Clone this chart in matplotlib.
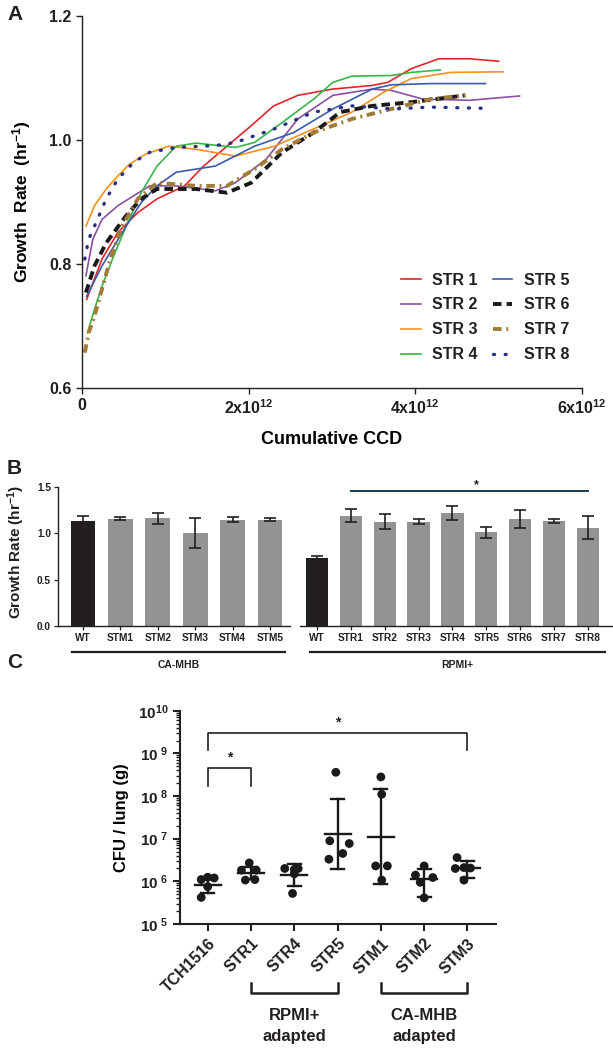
import matplotlib
matplotlib.use('Agg')
import matplotlib.pyplot as plt
import matplotlib.transforms as mtransforms
import numpy as np
from matplotlib.ticker import LogLocator, NullFormatter, FixedLocator

plt.rcParams['font.family'] = ['Liberation Sans', 'DejaVu Sans']
plt.rcParams['font.weight'] = 'bold'
plt.rcParams['mathtext.fontset'] = 'custom'
plt.rcParams['mathtext.rm'] = 'Liberation Sans:bold'
plt.rcParams['mathtext.bf'] = 'Liberation Sans:bold'
plt.rcParams['mathtext.it'] = 'Liberation Sans:bold'
plt.rcParams['axes.linewidth'] = 1.0
TXT = '#231f20'
plt.rcParams['text.color'] = TXT
plt.rcParams['xtick.color'] = TXT
plt.rcParams['ytick.color'] = TXT
plt.rcParams['axes.edgecolor'] = TXT

# ---------------- Panel A data (x in units of 1e12 cumulative CCD) -------------
CCD_UNIT = 1e12
str1_x = [0.056, 0.24, 0.43, 0.67, 0.90, 1.23, 1.46, 1.74, 2.03, 2.30, 2.59, 3.00, 3.48, 3.67, 3.95, 4.28, 4.65, 5.00]
str1_y = [0.743, 0.808, 0.851, 0.883, 0.905, 0.926, 0.958, 0.990, 1.023, 1.055, 1.072, 1.082, 1.088, 1.093, 1.115, 1.131, 1.131, 1.127]
str2_x = [0.047, 0.13, 0.24, 0.43, 0.62, 0.81, 1.13, 1.60, 1.84, 2.21, 2.59, 3.01, 3.48, 3.71, 4.09, 4.65, 5.25]
str2_y = [0.781, 0.840, 0.872, 0.894, 0.910, 0.926, 0.926, 0.918, 0.931, 0.969, 1.034, 1.072, 1.082, 1.080, 1.066, 1.064, 1.071]
str3_x = [0.047, 0.15, 0.29, 0.43, 0.57, 0.76, 1.04, 1.37, 1.84, 2.31, 2.78, 3.24, 3.62, 3.95, 4.42, 5.05]
str3_y = [0.861, 0.894, 0.921, 0.942, 0.961, 0.977, 0.990, 0.985, 0.974, 0.990, 1.018, 1.045, 1.077, 1.099, 1.109, 1.110]
str4_x = [0.066, 0.15, 0.24, 0.38, 0.53, 0.71, 0.90, 1.13, 1.37, 1.84, 2.07, 2.40, 2.78, 3.01, 3.24, 3.71, 3.95, 4.30]
str4_y = [0.689, 0.727, 0.764, 0.813, 0.861, 0.915, 0.958, 0.990, 0.995, 0.988, 0.996, 1.028, 1.066, 1.093, 1.103, 1.104, 1.109, 1.113]
str5_x = [0.056, 0.24, 0.53, 0.71, 0.90, 1.13, 1.60, 2.07, 2.54, 3.01, 3.48, 3.71, 4.18, 4.84]
str5_y = [0.748, 0.797, 0.861, 0.899, 0.926, 0.948, 0.958, 0.990, 1.012, 1.050, 1.082, 1.089, 1.091, 1.091]
str6_x = [0.047, 0.15, 0.29, 0.53, 0.71, 0.90, 1.37, 1.74, 2.03, 2.40, 2.78, 3.10, 3.48, 3.95, 4.60]
str6_y = [0.754, 0.797, 0.834, 0.878, 0.905, 0.921, 0.921, 0.915, 0.931, 0.980, 1.012, 1.045, 1.055, 1.061, 1.072]
str7_x = [0.033, 0.08, 0.15, 0.34, 0.48, 0.67, 0.90, 1.37, 1.74, 2.07, 2.40, 2.78, 3.24, 3.71, 4.18, 4.60]
str7_y = [0.657, 0.689, 0.716, 0.808, 0.861, 0.905, 0.931, 0.926, 0.926, 0.953, 0.985, 1.012, 1.034, 1.050, 1.066, 1.072]
str8_x = [0.033, 0.08, 0.17, 0.29, 0.43, 0.62, 0.81, 1.13, 1.60, 1.84, 2.31, 2.78, 3.24, 3.71, 4.18, 4.88]
str8_y = [0.808, 0.840, 0.867, 0.905, 0.937, 0.964, 0.980, 0.988, 0.991, 0.996, 1.018, 1.045, 1.055, 1.050, 1.053, 1.051]
series_labels = ['STR 1', 'STR 2', 'STR 3', 'STR 4', 'STR 5', 'STR 6', 'STR 7', 'STR 8']
a_xticks = [0, 2, 4, 6]
a_yticks = [0.6, 0.8, 1.0, 1.2]

# ---------------- Panel B data -------------
b_left_cats = ['WT', 'STM1', 'STM2', 'STM3', 'STM4', 'STM5']
b_left_vals = [1.134, 1.159, 1.162, 1.007, 1.148, 1.148]
b_left_err = [0.057, 0.02, 0.06, 0.162, 0.03, 0.02]
b_right_cats = ['WT', 'STR1', 'STR2', 'STR3', 'STR4', 'STR5', 'STR6', 'STR7', 'STR8']
b_right_vals = [0.729, 1.188, 1.126, 1.126, 1.220, 1.011, 1.152, 1.134, 1.061]
b_right_err = [0.03, 0.07, 0.078, 0.03, 0.08, 0.058, 0.096, 0.018, 0.123]
b_groups = ['CA-MHB', 'RPMI+']

# ---------------- Panel C data -------------
c_cats = ['TCH1516', 'STR1', 'STR4', 'STR5', 'STM1', 'STM2', 'STM3']
c_points = [
    [4.2e5, 7.5e5, 1.1e6, 1.2e6, 1.25e6],
    [1.07e6, 1.1e6, 1.83e6, 1.83e6, 2.7e6],
    [5.2e5, 1.5e6, 1.9e6, 2.0e6, 2.0e6],
    [3.3e6, 4.5e6, 7.7e6, 8.9e6, 3.6e8],
    [1.07e6, 2.3e6, 2.3e6, 1.1e8, 2.8e8],
    [4.1e5, 9.5e5, 1.23e6, 1.4e6, 2.3e6],
    [1.07e6, 2.0e6, 2.1e6, 2.05e6, 3.6e6],
]
c_mean = [8.2e5, 1.6e6, 1.4e6, 1.27e7, 1.1e7, 1.15e6, 2.0e6]
c_lower = [5.2e5, 1.15e6, 7.9e5, 1.9e6, 8.8e5, 4.35e5, 1.23e6]
c_upper = [1.28e6, 2.2e6, 2.53e6, 8.4e7, 1.46e8, 1.9e6, 3.0e6]
c_groups = ['RPMI+\nadapted', 'CA-MHB\nadapted']
# horizontal scatter spread of the dots (layout, category-width units)
c_spread = [
    [-0.15, 0.0, -0.15, 0.15, 0.0],
    [-0.13, 0.09, -0.22, 0.12, -0.04],
    [-0.04, 0.0, 0.0, -0.22, 0.09],
    [-0.2, 0.12, 0.27, -0.18, -0.04],
    [0.02, -0.12, 0.15, 0.02, 0.0],
    [0.0, -0.09, 0.2, -0.2, 0.0],
    [-0.08, -0.28, -0.08, 0.07, -0.24],
]

# ================= Figure =================
W, H = 613, 1050
fig = plt.figure(figsize=(W / 100, H / 100), dpi=100)

def ax_rect(x0, y0, x1, y1):
    return [x0 / W, 1 - y1 / H, (x1 - x0) / W, (y1 - y0) / H]

# ---------- Panel A ----------
axA = fig.add_axes(ax_rect(82, 16, 582, 388))
styles = [
    dict(color='#e3242b', lw=1.2, ls='-'),
    dict(color='#8a4fa0', lw=1.2, ls='-'),
    dict(color='#f7901e', lw=1.2, ls='-'),
    dict(color='#39b54a', lw=1.2, ls='-'),
    dict(color='#3a5aa8', lw=1.2, ls='-'),
    dict(color='#1a1a1a', lw=2.8, ls=(0, (2.2, 1.3))),
    dict(color='#a27b36', lw=2.8, ls=(0, (2.2, 1.2, 0.5, 1.2))),
    dict(color='#2b2f80', lw=2.4, ls=(0, (0.3, 3.2)), dash_capstyle='round'),
]
xs = [str1_x, str2_x, str3_x, str4_x, str5_x, str6_x, str7_x, str8_x]
ys = [str1_y, str2_y, str3_y, str4_y, str5_y, str6_y, str7_y, str8_y]
for x, y, lab, st in zip(xs, ys, series_labels, styles):
    axA.plot(np.array(x) * CCD_UNIT, y, label=lab, solid_joinstyle='round', **st)
axA.set_xlim(0, 6 * CCD_UNIT)
axA.set_ylim(0.6, 1.2)
axA.set_xticks([t * CCD_UNIT for t in a_xticks])
axA.set_xticklabels(['0'] + [r'$\mathbf{%dx10^{12}}$' % t for t in a_xticks[1:]])
axA.set_yticks(a_yticks)
axA.set_yticklabels(['%.1f' % v for v in a_yticks])
axA.tick_params(labelsize=11.5, width=1.0, length=4)
for s in ['top', 'right']:
    axA.spines[s].set_visible(False)
axA.set_xlabel('Cumulative CCD', fontsize=13, fontweight='bold', labelpad=10)
axA.set_ylabel('Growth  Rate  (hr$^{-1}$)', fontsize=12.5, fontweight='bold', labelpad=12)
axA.legend(loc='upper left', bbox_to_anchor=(0.61, 0.349), ncol=2, frameon=False,
           handlelength=1.2, handletextpad=0.7, columnspacing=1.0,
           labelspacing=0.62, prop={'weight': 'bold', 'size': 11.5})
fig.text(15 / W, 1 - 14 / H, 'A', fontsize=15, fontweight='bold', ha='center', va='center')

# ---------- Panel B ----------
axBL = fig.add_axes(ax_rect(58, 487, 290, 626))
axBR = fig.add_axes(ax_rect(300, 487, 613, 626))
for ax, cats, vals, errs, grp, gx in [
        (axBL, b_left_cats, b_left_vals, b_left_err, b_groups[0], (-0.3, 5.4)),
        (axBR, b_right_cats, b_right_vals, b_right_err, b_groups[1], (-0.2, 8.5))]:
    pos = np.arange(len(cats))
    cols = ['#231f20'] + ['#939393'] * (len(cats) - 1)
    ax.bar(pos, vals, width=0.66, color=cols, edgecolor='none', zorder=2)
    ax.errorbar(pos, vals, yerr=errs, fmt='none', ecolor='#231f20', elinewidth=1.2,
                capsize=4.2, capthick=1.2, zorder=3)
    ax.set_ylim(0, 1.5)
    ax.set_xticks(pos)
    ax.set_xticklabels(cats, fontsize=7.3, fontweight='bold')
    ax.tick_params(axis='x', length=3, width=0.9, pad=2)
    for s in ['top', 'right']:
        ax.spines[s].set_visible(False)
    tr = mtransforms.blended_transform_factory(ax.transData, ax.transAxes)
    ax.plot(list(gx), [-0.187, -0.187], transform=tr, color='#231f20', lw=1.6, clip_on=False)
    ax.text(np.mean(gx), -0.28, grp, transform=tr, ha='center', va='center',
            fontsize=7.5, fontweight='bold')
axBL.set_xlim(-0.668, 5.535)
axBR.set_xlim(-0.5, 8.74)
axBL.set_yticks([0.0, 0.5, 1.0, 1.5])
axBL.set_yticklabels(['0.0', '0.5', '1.0', '1.5'], fontsize=7.3, fontweight='bold')
axBL.tick_params(axis='y', length=3, width=0.9, pad=2)
axBR.spines['left'].set_visible(False)
axBR.set_yticks([])
# significance line over STR1..STR8
axBR.plot([1, 8], [1.46, 1.46], color='#1d3a48', lw=1.4, clip_on=False)
axBR.text(4.7, 1.52, '*', ha='center', va='center', fontsize=9, fontweight='bold', clip_on=False)
fig.text(16 / W, 1 - 552 / H, 'Growth Rate (hr$^{-1}$)', rotation=90, ha='center', va='center',
         fontsize=11, fontweight='bold')
fig.text(14 / W, 1 - 468 / H, 'B', fontsize=15, fontweight='bold', ha='center', va='center')

# ---------- Panel C ----------
axC = fig.add_axes(ax_rect(180, 710.7, 496, 924))
axC.set_yscale('log')
for i, pts in enumerate(c_points):
    axC.scatter(i + np.array(c_spread[i]), pts, s=40, color='#1a1a1a', zorder=3, edgecolors='none')
    axC.plot([i - 0.3, i + 0.3], [c_mean[i], c_mean[i]], color='#1a1a1a', lw=1.7, zorder=4)
    axC.plot([i, i], [c_lower[i], c_upper[i]], color='#1a1a1a', lw=1.7, zorder=4)
    for v in (c_lower[i], c_upper[i]):
        axC.plot([i - 0.15, i + 0.15], [v, v], color='#1a1a1a', lw=1.7, zorder=4)
axC.set_ylim(1e5, 1e10)
axC.set_xlim(-0.64, 6.66)
axC.set_xticks(range(len(c_cats)))
axC.set_xticklabels(c_cats, rotation=45, ha='right', rotation_mode='anchor',
                    fontsize=11.5, fontweight='bold')
axC.yaxis.set_major_locator(FixedLocator([1e5, 1e6, 1e7, 1e8, 1e9, 1e10]))
axC.set_yticklabels([r'$\mathbf{10^{\ 5}}$', r'$\mathbf{10^{\ 6}}$', r'$\mathbf{10^{\ 7}}$',
                     r'$\mathbf{10^{\ 8}}$', r'$\mathbf{10^{\ 9}}$', r'$\mathbf{10^{10}}$'],
                    fontsize=11)
axC.yaxis.set_minor_locator(LogLocator(base=10, subs=np.arange(2, 10), numticks=20))
axC.yaxis.set_minor_formatter(NullFormatter())
axC.tick_params(axis='both', which='major', length=5, width=1.5)
axC.tick_params(axis='y', which='minor', length=3, width=1.0)
for s in ['top', 'right']:
    axC.spines[s].set_visible(False)
for s in ['left', 'bottom']:
    axC.spines[s].set_linewidth(1.5)
axC.set_ylabel('CFU / lung (g)', fontsize=12, fontweight='bold', labelpad=6)
# significance brackets
def bracket(x0, x1, ytop, ybot, star_y):
    axC.plot([x0, x0, x1, x1], [ybot, ytop, ytop, ybot], color='#231f20', lw=1.2, clip_on=False)
    axC.text((x0 + x1) / 2, star_y, '*', ha='center', va='center', fontsize=10, fontweight='bold')
bracket(0, 6, 10 ** 9.474, 10 ** 9.07, 10 ** 9.72)
bracket(0, 1, 10 ** 8.663, 10 ** 8.235, 10 ** 8.9)
# group brackets below axis
trC = mtransforms.blended_transform_factory(axC.transData, axC.transAxes)
for (g0, g1), lab in zip([(1, 3), (4, 6)], c_groups):
    axC.plot([g0, g0, g1, g1], [-0.277, -0.323, -0.323, -0.277], transform=trC,
             color='#231f20', lw=1.8, clip_on=False)
    axC.text((g0 + g1) / 2, -0.478, lab, transform=trC, ha='center', va='center',
             fontsize=12, fontweight='bold', linespacing=1.5)
fig.text(15 / W, 1 - 663 / H, 'C', fontsize=15, fontweight='bold', ha='center', va='center')

fig.savefig('out.png', dpi=100)
